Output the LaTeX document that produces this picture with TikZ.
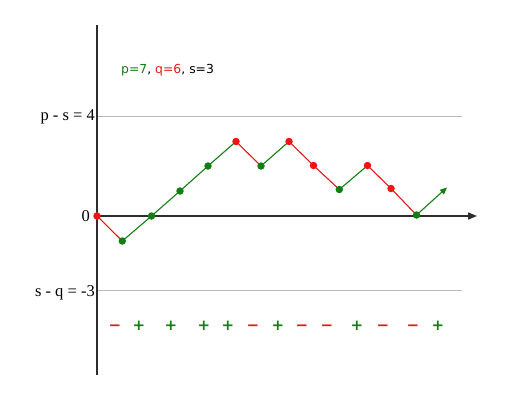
\documentclass[tikz,border=0pt]{standalone}
\usepackage{fontspec}
\setmainfont{Liberation Serif}
\newfontfamily\labfont{DejaVu Sans}
\usetikzlibrary{arrows.meta}
\definecolor{pgreen}{RGB}{20,125,20}
\definecolor{pred}{RGB}{225,25,25}
\definecolor{dred}{RGB}{240,20,20}
\definecolor{axisgray}{RGB}{45,45,45}
\definecolor{gridgray}{RGB}{185,185,185}
\tikzset{
  dot/.style={circle,inner sep=0pt,minimum size=7.5pt},
  gdot/.style={dot,fill=pgreen},
  rdot/.style={dot,fill=dred},
  upstep/.style={draw=pgreen,line width=1.1pt},
  downstep/.style={draw=pred,line width=1.1pt},
  axislab/.style={font=\fontsize{16.5}{18}\selectfont,anchor=base east,inner sep=0pt},
  sign/.style={font=\labfont\bfseries\fontsize{15}{17}\selectfont,inner sep=0pt,anchor=base},
}
\begin{document}
\begin{tikzpicture}[x=1pt,y=-1pt]
\useasboundingbox (0,0) rectangle (517,400);
% grid lines
\coordinate (g1a) at (97,116.5); \coordinate (g1b) at (462,116.5);
\coordinate (g2a) at (97,290.5); \coordinate (g2b) at (462,290.5);
\draw[gridgray,line width=0.9pt] (g1a) -- (g1b);
\draw[gridgray,line width=0.9pt] (g2a) -- (g2b);
% axes
\coordinate (ytop) at (97,25); \coordinate (ybot) at (97,375);
\coordinate (xl) at (97,216); \coordinate (xr) at (477,216);
\draw[axisgray,line width=1.6pt] (ytop) -- (ybot);
\draw[axisgray,line width=1.4pt,-{Triangle[length=9pt,width=7pt]}] (xl) -- (xr);
% labels
\node[axislab] (lps) at (95,120.5) {p - s = 4};
\node[axislab] (l0) at (90,221) {0};
\node[axislab] (lsq) at (95,296) {s - q = -3};
\node[anchor=west,inner sep=0pt,font=\labfont\fontsize{12.4}{14}\selectfont] (title) at (121,70)
  {\textcolor{pgreen}{p=7}, \textcolor{pred}{q=6}, s=3};
% path points
\coordinate (p0) at (97,216);
\coordinate (p1) at (122.3,241);
\coordinate (p2) at (151.5,216);
\coordinate (p3) at (180,191);
\coordinate (p4) at (208,166);
\coordinate (p5) at (236,141.5);
\coordinate (p6) at (261,166);
\coordinate (p7) at (289,141.5);
\coordinate (p8) at (313.5,165.5);
\coordinate (p9) at (339.3,189.5);
\coordinate (p10) at (367.5,165.5);
\coordinate (p11) at (391,188.5);
\coordinate (p12) at (416.5,215);
\coordinate (pend) at (447,187.5);
\draw[downstep] (p0) -- (p1);
\draw[upstep] (p1) -- (p2);
\draw[upstep] (p2) -- (p3);
\draw[upstep] (p3) -- (p4);
\draw[upstep] (p4) -- (p5);
\draw[downstep] (p5) -- (p6);
\draw[upstep] (p6) -- (p7);
\draw[downstep] (p7) -- (p8);
\draw[downstep] (p8) -- (p9);
\draw[upstep] (p9) -- (p10);
\draw[downstep] (p10) -- (p11);
\draw[downstep] (p11) -- (p12);
\draw[upstep,-{Triangle[length=7pt,width=6pt]}] (p12) -- (pend);
% dots
\node[rdot] (d0) at (p0) {};
\node[gdot] (d1) at (p1) {};
\node[gdot] (d2) at (p2) {};
\node[gdot] (d3) at (p3) {};
\node[gdot] (d4) at (p4) {};
\node[rdot] (d5) at (p5) {};
\node[gdot] (d6) at (p6) {};
\node[rdot] (d7) at (p7) {};
\node[rdot] (d8) at (p8) {};
\node[gdot] (d9) at (p9) {};
\node[rdot] (d10) at (p10) {};
\node[rdot] (d11) at (p11) {};
\node[gdot] (d12) at (p12) {};
% signs
\node[sign,text=pred] (s1) at (115,330) {−};
\node[sign,text=pgreen] (s2) at (139,330) {+};
\node[sign,text=pgreen] (s3) at (171,330) {+};
\node[sign,text=pgreen] (s4) at (204,330) {+};
\node[sign,text=pgreen] (s5) at (228,330) {+};
\node[sign,text=pred] (s6) at (253,330) {−};
\node[sign,text=pgreen] (s7) at (278,330) {+};
\node[sign,text=pred] (s8) at (302,330) {−};
\node[sign,text=pred] (s9) at (327,330) {−};
\node[sign,text=pgreen] (s10) at (357,330) {+};
\node[sign,text=pred] (s11) at (383,330) {−};
\node[sign,text=pred] (s12) at (413,330) {−};
\node[sign,text=pgreen] (s13) at (438,330) {+};
\end{tikzpicture}
\end{document}
